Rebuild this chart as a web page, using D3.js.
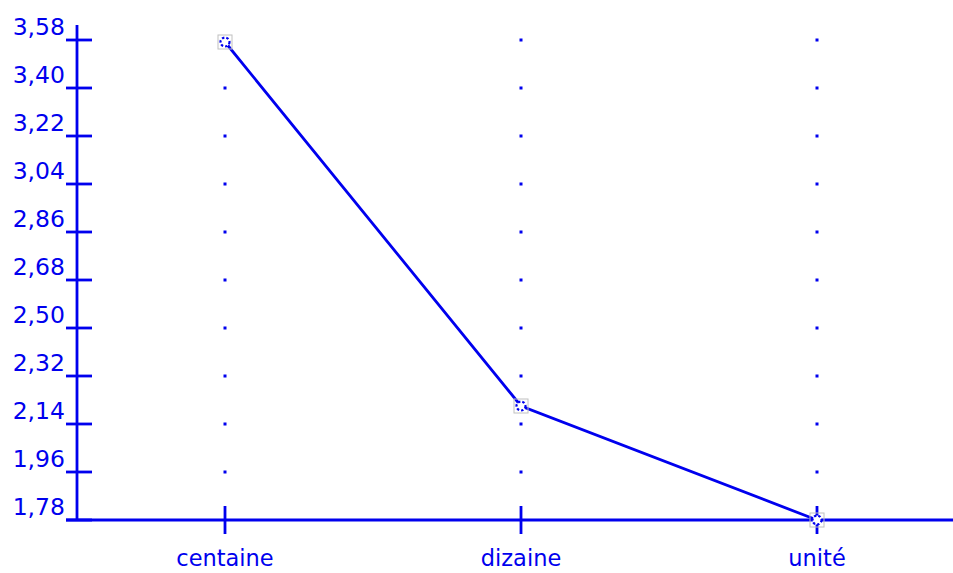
<!DOCTYPE html>
<html>
<head>
<meta charset="utf-8">
<script src="https://cdn.jsdelivr.net/npm/d3@7"></script>
<style>
  html, body { margin: 0; padding: 0; background: #fff; }
  svg text { font-family: "DejaVu Sans", Verdana, sans-serif; fill: #0000ee; }
</style>
</head>
<body>
<div id="chart"></div>
<script>
// Line chart: one series over three place-value categories.
var categories = ['centaine', 'dizaine', 'unité'];
var values = [3.5725, 2.2075, 1.78];
var yTickValues = [1.78, 1.96, 2.14, 2.32, 2.50, 2.68, 2.86, 3.04, 3.22, 3.40, 3.58];

(function () {
    var W = 953, H = 573;
    var blue = '#0000ee';
    var margin = { top: 40, left: 77, bottom: 53 };
    var innerH = H - margin.top - margin.bottom;   // 480

    var svg = d3.select('#chart').append('svg')
        .attr('width', W).attr('height', H);

    var x = d3.scaleBand().domain(categories)
        .range([margin.left, margin.left + 888]).padding(0);
    var y = d3.scaleLinear().domain([1.78, 3.58])
        .range([margin.top + innerH, margin.top]);
    var cx = function (d) { return x(d) + x.bandwidth() / 2; };

    // dotted grid: one dot per category per y tick (above the baseline)
    categories.forEach(function (c) {
        yTickValues.slice(1).forEach(function (v) {
            svg.append('rect')
                .attr('x', Math.round(cx(c)) - 1.5).attr('y', Math.round(y(v)) - 1.5)
                .attr('width', 3).attr('height', 3).attr('fill', blue);
        });
    });

    // y axis
    svg.append('line')
        .attr('x1', margin.left).attr('x2', margin.left)
        .attr('y1', 25).attr('y2', y(1.78))
        .attr('stroke', blue).attr('stroke-width', 2.8);
    yTickValues.forEach(function (v) {
        svg.append('line')
            .attr('x1', 66).attr('x2', 92)
            .attr('y1', y(v)).attr('y2', y(v))
            .attr('stroke', blue).attr('stroke-width', 2.8);
        svg.append('text')
            .attr('x', 65).attr('y', y(v) - 5)
            .attr('text-anchor', 'end')
            .attr('font-size', 23.5)
            .text(d3.format('.2f')(v).replace('.', ','));
    });

    // x axis
    svg.append('line')
        .attr('x1', 66).attr('x2', W)
        .attr('y1', y(1.78)).attr('y2', y(1.78))
        .attr('stroke', blue).attr('stroke-width', 2.8);
    categories.forEach(function (c) {
        svg.append('line')
            .attr('x1', cx(c)).attr('x2', cx(c))
            .attr('y1', y(1.78) - 14).attr('y2', y(1.78) + 14)
            .attr('stroke', blue).attr('stroke-width', 2.8);
        svg.append('text')
            .attr('x', cx(c)).attr('y', 566)
            .attr('text-anchor', 'middle')
            .attr('font-size', 22.5)
            .text(c);
    });

    // series line
    var line = d3.line()
        .x(function (d, i) { return cx(categories[i]); })
        .y(function (d) { return y(d); });
    svg.append('path').datum(values)
        .attr('d', line)
        .attr('fill', 'none').attr('stroke', blue).attr('stroke-width', 2.8);

    // markers: grey box + dotted white circle
    values.forEach(function (v, i) {
        var px = cx(categories[i]), py = y(v);
        svg.append('rect')
            .attr('x', px - 7).attr('y', py - 7)
            .attr('width', 14).attr('height', 14)
            .attr('fill', 'none').attr('stroke', '#c0c0c0').attr('stroke-width', 1);
        svg.append('circle')
            .attr('cx', px).attr('cy', py).attr('r', 4.5)
            .attr('fill', '#fff').attr('stroke', blue)
            .attr('stroke-width', 2.2).attr('stroke-dasharray', '2.4 2');
    });
})();
</script>
</body>
</html>
